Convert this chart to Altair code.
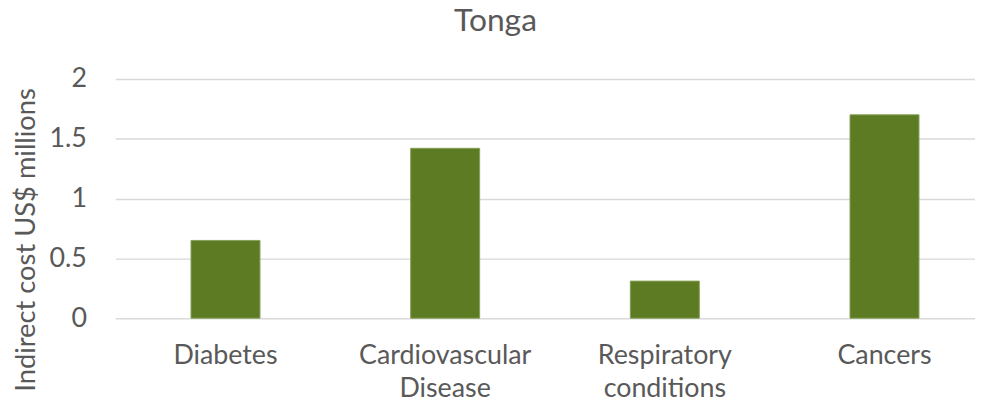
import altair as alt
import pandas as pd

categories = ["Diabetes", "Cardiovascular Disease", "Respiratory conditions", "Cancers"]
values = [0.65, 1.42, 0.31, 1.70]
y_ticks = [0, 0.5, 1, 1.5, 2]

df = pd.DataFrame({"category": categories, "value": values})

FONT = "Lato"
TXT = "#595959"

chart = alt.Chart(df).mark_bar(
    color="#5D7B22", stroke="#86A05A", strokeWidth=1
).encode(
    x=alt.X(
        "category:N",
        sort=categories,
        scale=alt.Scale(paddingInner=0.686, paddingOuter=0.30, align=0.575),
        axis=alt.Axis(
            title=None, labelAngle=0, ticks=False, domain=False,
            labelExpr="split(datum.label, ' ')",
            labelFontSize=27, labelFont=FONT, labelColor=TXT,
            labelPadding=25, labelLineHeight=33, labelBaseline="top",
        ),
    ),
    y=alt.Y(
        "value:Q",
        scale=alt.Scale(domain=[0, 2], nice=False),
        axis=alt.Axis(
            title="Indirect cost US$ millions", values=y_ticks, format="~g",
            ticks=False, domain=False, grid=True,
            gridColor="#D9D9D9", gridWidth=1.5,
            labelFontSize=27, labelFont=FONT, labelColor=TXT, labelPadding=29,
            titleFontSize=27.5, titleFont=FONT, titleColor=TXT, titleFontWeight="normal",
            titleAngle=270, titleX=-89, titleY=161.7, titleAlign="center",
            titleBaseline="middle",
        ),
    ),
).properties(
    width=866,
    height=241,
    title=alt.TitleParams(
        "Tonga", fontSize=32, font=FONT, color=TXT, fontWeight="normal",
        anchor="middle", dx=-50, offset=2, baseline="alphabetic",
    ),
    autosize=alt.AutoSizeParams(type="none"),
    padding={"left": 108, "top": 70, "right": 0, "bottom": 89},
).configure_view(stroke=None)

chart.save("out.html", embed_options={"renderer": "svg", "actions": False})
